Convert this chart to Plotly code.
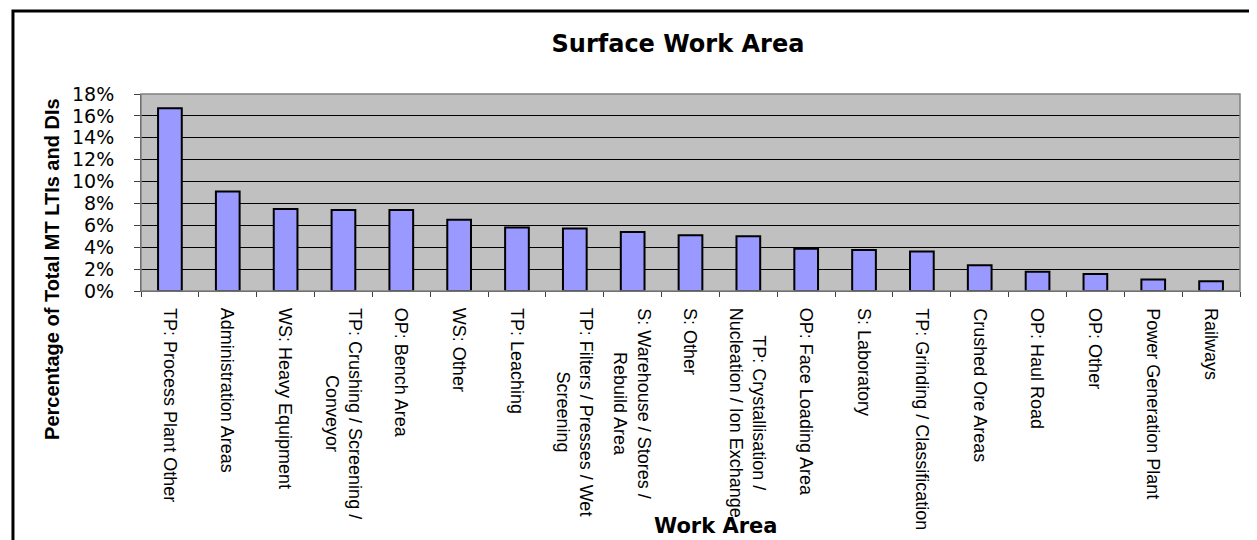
import plotly.graph_objects as go

# Work areas (line breaks as in the original wrapped labels)
work_areas = [
    "TP: Process Plant Other",
    "Administration Areas",
    "WS: Heavy Equipment",
    "TP: Crushing / Screening /<br>Conveyor",
    "OP: Bench Area",
    "WS: Other",
    "TP: Leaching",
    "TP: Filters / Presses / Wet<br>Screening",
    "S: Warehouse / Stores /<br>Rebuild Area",
    "S: Other",
    "TP: Crystallisation /<br>Nucleation / Ion Exchange",
    "OP: Face Loading Area",
    "S: Laboratory",
    "TP: Grinding / Classification",
    "Crushed Ore Areas",
    "OP: Haul Road",
    "OP: Other",
    "Power Generation Plant",
    "Railways",
]

# Percentage of total MT LTIs and DIs
pct_values = [16.7, 9.1, 7.5, 7.4, 7.4, 6.5, 5.8, 5.7, 5.4, 5.1, 5.0,
              3.85, 3.75, 3.6, 2.35, 1.75, 1.55, 1.05, 0.9]

y_ticks = [0, 2, 4, 6, 8, 10, 12, 14, 16, 18]
y_tick_labels = [f"{v}%" for v in y_ticks]

fig = go.Figure(go.Bar(
    x=work_areas, y=pct_values,
    marker=dict(color="#9999FF", line=dict(color="black", width=2)),
))

# page body has an 8px margin, so the figure is sized/offset to fit the window
fig.update_layout(
    width=1249, height=532,
    paper_bgcolor="white", plot_bgcolor="#C0C0C0",
    margin=dict(l=133, r=17, t=86, b=249),
    bargap=0.59, showlegend=False,
    title=dict(text="Surface Work Area", xref="container", x=0.5364,
               y=0.934, xanchor="center", yanchor="middle",
               font=dict(family="DejaVu Sans", size=24, weight="bold", color="black")),
)

fig.update_xaxes(
    type="category", showticklabels=False,
    ticks="outside", tickson="boundaries", ticklen=5, tickcolor="#404040",
    showline=True, linecolor="#404040", linewidth=1, showgrid=False,
)
fig.update_yaxes(
    range=[0, 18], tickvals=y_ticks, ticktext=y_tick_labels,
    ticks="outside", ticklen=6, tickcolor="#404040", ticklabelstandoff=16,
    tickfont=dict(family="DejaVu Sans", size=19, color="black"),
    showline=True, linecolor="#404040", linewidth=1,
    showgrid=True, gridcolor="black", gridwidth=1, zeroline=False,
)

# category labels, rotated, with centred wrapped lines
for name in work_areas:
    fig.add_annotation(
        x=name, xref="x", y=0, yref="paper", yshift=-15,
        text=name, textangle=90, showarrow=False, align="center",
        xanchor="center", yanchor="top",
        font=dict(family="Liberation Sans", size=18, color="black"),
    )

# axis titles
fig.add_annotation(
    text="Percentage of Total MT LTIs and DIs", xref="paper", yref="paper",
    x=-0.081, y=0.112, textangle=-90, showarrow=False,
    xanchor="center", yanchor="middle",
    font=dict(family="Liberation Sans", size=20, weight="bold", color="black"),
)
fig.add_annotation(
    text="Work Area", xref="paper", yref="paper", x=0.523, y=-1.265,
    showarrow=False, xanchor="center", yanchor="bottom",
    font=dict(family="DejaVu Sans", size=21, weight="bold", color="black"),
)

# grey plot-area border and outer chart frame
fig.add_shape(type="rect", xref="paper", yref="paper", x0=0, y0=0, x1=1, y1=1,
              line=dict(color="#808080", width=1.5))
fig.add_shape(type="rect", xref="paper", yref="paper", x0=-0.1165, y0=-1.6,
              x1=1.2, y1=1.4213, line=dict(color="black", width=3))

fig.write_html("out.html")
